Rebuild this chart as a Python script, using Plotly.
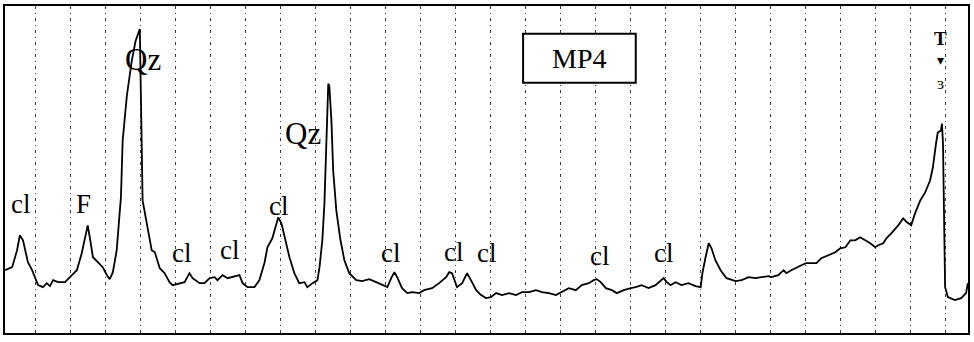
import plotly.graph_objects as go

# 2-theta (deg) and intensity (counts, arbitrary)
two_theta = [
    2.12, 2.32, 2.46, 2.54, 2.63, 2.77, 2.89, 2.97, 3.06, 3.20, 3.31, 3.40, 3.49, 3.63, 3.83,
    4.03, 4.17, 4.31, 4.40, 4.48, 4.54, 4.63, 4.77, 4.91, 5.03, 5.11, 5.20, 5.31, 5.37, 5.43,
    5.48, 5.60, 5.74, 5.85, 5.97, 6.00, 6.05, 6.17, 6.31, 6.40, 6.45, 6.54, 6.68, 6.82, 6.91,
    7.11, 7.25, 7.39, 7.48, 7.68, 7.82, 7.97, 8.11, 8.19, 8.34, 8.48, 8.62, 8.82, 8.91, 9.05,
    9.25, 9.39, 9.54, 9.62, 9.76, 9.88, 9.93, 10.02, 10.11, 10.25, 10.39, 10.53, 10.68, 10.76,
    10.91, 11.05, 11.11, 11.19, 11.25, 11.30, 11.36, 11.39, 11.45, 11.50, 11.59, 11.70, 11.82,
    11.96, 12.16, 12.33, 12.53, 12.73, 12.90, 13.05, 13.16, 13.25, 13.33, 13.47, 13.62, 13.76,
    13.96, 14.10, 14.33, 14.53, 14.73, 14.82, 14.90, 15.04, 15.19, 15.33, 15.44, 15.59, 15.73,
    15.87, 16.01, 16.16, 16.33, 16.53, 16.73, 16.90, 17.10, 17.30, 17.47, 17.67, 17.87, 18.04,
    18.24, 18.44, 18.61, 18.81, 18.95, 19.04, 19.15, 19.30, 19.47, 19.61, 19.81, 20.01, 20.15,
    20.32, 20.52, 20.72, 20.87, 20.95, 21.04, 21.15, 21.29, 21.46, 21.66, 21.86, 22.01, 22.06,
    22.15, 22.24, 22.32, 22.43, 22.58, 22.75, 23.01, 23.18, 23.38, 23.58, 23.75, 23.95, 24.03,
    24.23, 24.38, 24.46, 24.60, 24.75, 24.89, 25.03, 25.17, 25.32, 25.46, 25.66, 25.86, 26.00,
    26.15, 26.29, 26.43, 26.57, 26.72, 26.86, 27.00, 27.09, 27.23, 27.32, 27.46, 27.66, 27.80,
    27.91, 28.03, 28.14, 28.29, 28.43, 28.57, 28.65, 28.74, 28.79, 28.88, 28.91, 28.94, 28.97,
    29.00, 29.08, 29.28, 29.46, 29.60, 29.65,
]
intensity = [
    63, 66, 83, 98, 93, 71, 63, 55, 48, 46, 50, 47, 53, 51, 51,
    58, 63, 80, 96, 108, 96, 76, 71, 66, 58, 54, 61, 83, 110, 136,
    193, 238, 273, 293, 305, 223, 133, 110, 83, 81, 76, 65, 60, 51, 48,
    50, 51, 60, 55, 50, 50, 55, 56, 53, 58, 55, 56, 58, 50, 46,
    46, 53, 71, 86, 95, 110, 116, 110, 96, 76, 60, 50, 51, 46,
    50, 53, 66, 93, 130, 193, 250, 248, 213, 163, 123, 95, 73,
    60, 53, 52, 54, 51, 48, 46, 55, 61, 56, 45, 40, 41,
    40, 43, 45, 50, 56, 61, 60, 46, 50, 60, 53, 43, 38,
    35, 36, 40, 38, 40, 38, 41, 41, 43, 41, 40, 38, 41,
    45, 43, 48, 50, 53, 54, 51, 45, 43, 40, 43, 45, 46,
    48, 45, 48, 53, 55, 51, 48, 51, 48, 50, 47, 46, 60,
    76, 90, 85, 73, 63, 55, 52, 53, 56, 55, 56, 57, 56,
    58, 63, 60, 63, 66, 68, 70, 70, 70, 75, 78, 81, 85,
    86, 93, 93, 96, 93, 90, 86, 88, 90, 95, 100, 108, 115,
    111, 108, 120, 133, 141, 153, 166, 190, 201, 203, 210, 190, 133,
    46, 36, 33, 35, 40, 50,
]

# phase labels: text, 2-theta, intensity position
label_text = ["cl", "F", "Qz", "cl", "cl", "cl", "Qz", "cl", "cl", "cl", "cl", "cl"]
label_x = [2.57, 4.37, 6.05, 7.17, 8.54, 9.96, 10.65, 13.16, 14.96, 15.90, 19.12, 20.95]
label_y = [129, 129, 274, 80, 83, 127, 200, 80, 81, 80, 77, 80]
label_size = [27, 27, 31, 27, 27, 27, 31, 27, 27, 27, 27, 27]

grid_positions = list(range(3, 30))

fig = go.Figure()
fig.add_trace(go.Scatter(
    x=two_theta, y=intensity, mode="lines",
    line=dict(color="black", width=1.8),
    hoverinfo="skip", showlegend=False,
))

serif = "Liberation Serif, Times New Roman, serif"
for t, x, y, s in zip(label_text, label_x, label_y, label_size):
    fig.add_annotation(x=x, y=y, text=t, showarrow=False,
                       xanchor="center", yanchor="middle",
                       font=dict(family=serif, size=s, color="black"))

# sample box
fig.add_shape(type="rect", xref="paper", yref="paper",
              x0=0.538, x1=0.655, y0=0.765, y1=0.915,
              line=dict(color="black", width=2), fillcolor="white")
fig.add_annotation(xref="paper", yref="paper", x=0.5965, y=0.84, text="MP4",
                   showarrow=False, xanchor="center", yanchor="middle",
                   font=dict(family=serif, size=28, color="black"))

# small marks at top right
fig.add_annotation(x=28.88, y=295, text="<b>T</b>", showarrow=False,
                   xanchor="center", yanchor="middle",
                   font=dict(family=serif, size=19, color="black"))
fig.add_annotation(x=28.88, y=273, text="▾", showarrow=False,
                   xanchor="center", yanchor="middle",
                   font=dict(family=serif, size=14, color="black"))
fig.add_annotation(x=28.88, y=250, text="ɜ", showarrow=False,
                   xanchor="center", yanchor="middle",
                   font=dict(family=serif, size=17, color="black"))

fig.update_xaxes(range=[2.115, 29.655], tickvals=grid_positions, showticklabels=False,
                 ticks="", showgrid=True, gridcolor="#3a3a3a", gridwidth=1,
                 griddash="3px,4px,1px,4px", zeroline=False,
                 showline=True, linecolor="black", linewidth=2, mirror=True)
fig.update_yaxes(range=[0, 328], showticklabels=False, ticks="", showgrid=False,
                 zeroline=False, showline=True, linecolor="black", linewidth=2, mirror=True)

fig.update_layout(width=974, height=342, margin=dict(l=5, r=4, t=5, b=9),
                  paper_bgcolor="white", plot_bgcolor="white")

fig.write_html("out.html", config={"displayModeBar": False},
               post_script="document.body.style.margin='0';document.body.style.padding='0';")
